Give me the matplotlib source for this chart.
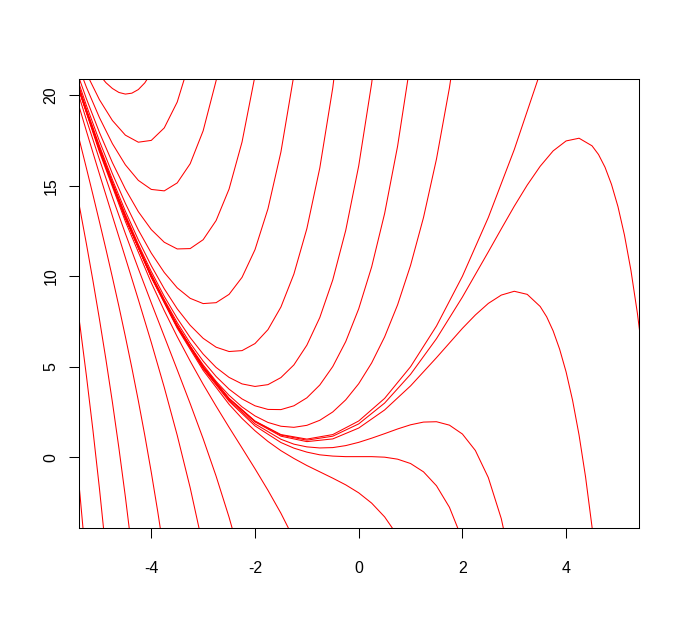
import matplotlib
matplotlib.use("Agg")
import matplotlib.pyplot as plt

plt.rcParams['font.family'] = ['Liberation Sans', 'DejaVu Sans']
plt.rcParams['axes.unicode_minus'] = False

# ---- data: vertices of each red curve ----
A_x = [-5.0, -4.875, -4.75, -4.625, -4.5, -4.375, -4.25, -4.125, -4.0]
A_y = [21.14, 20.70, 20.38, 20.16, 20.07, 20.12, 20.32, 20.69, 21.25]

B_x = [-5.5, -5.25, -5.0, -4.75, -4.5, -4.25, -4.0, -3.75, -3.5, -3.25]
B_y = [22.93, 21.21, 19.76, 18.61, 17.80, 17.41, 17.51, 18.20, 19.63, 21.96]

C_x = [-5.5, -5.25, -5.0, -4.75, -4.5, -4.25, -4.0, -3.75, -3.5, -3.25, -3.0, -2.75, -2.5]
C_y = [22.32, 20.44, 18.77, 17.33, 16.16, 15.30, 14.80, 14.72, 15.16, 16.22, 18.04, 20.81, 24.76]

D_x = [-5.5, -5.25, -5.0, -4.75, -4.5, -4.25, -4.0, -3.75, -3.5, -3.25, -3.0, -2.75, -2.5, -2.25, -2.0]
D_y = [21.83, 19.80, 17.95, 16.28, 14.82, 13.57, 12.58, 11.88, 11.51, 11.53, 12.02, 13.08, 14.82, 17.42, 21.08]

E_x = [-5.5, -5.25, -5.0, -4.75, -4.5, -4.25, -4.0, -3.75, -3.5, -3.25, -3.0, -2.75, -2.5, -2.25, -2.0,
       -1.75, -1.5, -1.25]
E_y = [21.54, 19.43, 17.47, 15.67, 14.03, 12.56, 11.28, 10.21, 9.36, 8.78, 8.49, 8.54, 9.00, 9.94, 11.47,
       13.73, 16.87, 21.12]

F_x = [-5.5, -5.25, -5.0, -4.75, -4.5, -4.25, -4.0, -3.75, -3.5, -3.25, -3.0, -2.75, -2.5, -2.25, -2.0,
       -1.75, -1.5, -1.25, -1.0, -0.75, -0.5, -0.25]
F_y = [21.38, 19.23, 17.21, 15.34, 13.60, 12.01, 10.58, 9.31, 8.20, 7.29, 6.57, 6.08, 5.84, 5.89, 6.28,
       7.05, 8.30, 10.12, 12.63, 15.99, 20.42, 26.17]

G_x = [-5.5, -5.25, -5.0, -4.75, -4.5, -4.25, -4.0, -3.75, -3.5, -3.25, -3.0, -2.75, -2.5, -2.25, -2.0,
       -1.75, -1.5, -1.25, -1.0, -0.75, -0.5, -0.25, 0.0, 0.25, 0.5]
G_y = [21.31, 19.14, 17.10, 15.18, 13.41, 11.76, 10.26, 8.89, 7.68, 6.61, 5.70, 4.96, 4.41, 4.05, 3.91,
       4.01, 4.40, 5.10, 6.19, 7.72, 9.80, 12.54, 16.10, 20.67, 26.50]

H_x = [-5.5, -5.25, -5.0, -4.75, -4.5, -4.25, -4.0, -3.75, -3.5, -3.25, -3.0, -2.75, -2.5, -2.25, -2.0,
       -1.75, -1.5, -1.25, -1.0, -0.75, -0.5, -0.25, 0.0, 0.25, 0.5, 0.75, 1.0]
H_y = [21.28, 19.10, 17.04, 15.12, 13.32, 11.65, 10.11, 8.71, 7.44, 6.30, 5.31, 4.46, 3.76, 3.22, 2.84,
       2.64, 2.63, 2.84, 3.28, 3.99, 5.01, 6.39, 8.20, 10.52, 13.47, 17.19, 21.85]

I_x = [-5.5, -5.25, -5.0, -4.75, -4.5, -4.25, -4.0, -3.75, -3.5, -3.25, -3.0, -2.75, -2.5, -2.25, -2.0,
       -1.75, -1.5, -1.25, -1.0, -0.75, -0.5, -0.25, 0.0, 0.25, 0.5, 0.75, 1.0, 1.25, 1.5, 1.75, 2.0]
I_y = [21.26, 19.07, 17.01, 15.08, 13.27, 11.59, 10.04, 8.61, 7.31, 6.14, 5.10, 4.19, 3.42, 2.78, 2.28,
       1.92, 1.71, 1.65, 1.76, 2.04, 2.50, 3.17, 4.06, 5.21, 6.65, 8.42, 10.60, 13.25, 16.48, 20.42, 25.22]

J_x = [-5.5, -5.0, -4.5, -4.0, -3.5, -3.0, -2.5, -2.0, -1.5, -1.0, -0.5, 0.0, 0.5, 1.0, 1.5, 2.0, 2.5,
       3.0, 3.5]
J_y = [21.25, 17.0, 13.25, 10.0, 7.25, 5.0, 3.25, 2.0, 1.25, 1.0, 1.25, 2.0, 3.25, 5.0, 7.25, 10.0, 13.25,
       17.0, 21.25]

K_x = [-5.5, -5.0, -4.5, -4.0, -3.5, -3.0, -2.5, -2.0, -1.5, -1.0, -0.5, 0.0, 0.5, 1.0, 1.5, 2.0, 2.5,
       2.75, 3.0, 3.25, 3.5, 3.75, 4.0, 4.25, 4.5, 4.625, 4.75, 4.875, 5.0, 5.125, 5.25, 5.375, 5.5]
K_y = [21.25, 17.00, 13.25, 10.00, 7.25, 4.99, 3.24, 1.98, 1.22, 0.94, 1.16, 1.84, 2.99, 4.58, 6.55, 8.85,
       11.35, 12.62, 13.87, 15.04, 16.08, 16.93, 17.48, 17.63, 17.21, 16.73, 16.03, 15.08, 13.85, 12.28,
       10.33, 7.95, 5.08]

L_x = [-5.5, -5.0, -4.5, -4.0, -3.5, -3.0, -2.5, -2.0, -1.5, -1.0, -0.5, 0.0, 0.5, 1.0, 1.5, 2.0, 2.25,
       2.5, 2.75, 3.0, 3.25, 3.5, 3.625, 3.75, 3.875, 4.0, 4.125, 4.25, 4.375, 4.5, 4.625]
L_y = [21.25, 17.00, 13.25, 9.99, 7.24, 4.98, 3.22, 1.95, 1.16, 0.86, 1.01, 1.61, 2.61, 3.94, 5.50, 7.12,
       7.86, 8.50, 8.96, 9.17, 9.00, 8.33, 7.76, 6.98, 5.97, 4.71, 3.14, 1.22, -1.09, -3.86, -7.14]

M_x = [-5.5, -5.0, -4.5, -4.0, -3.5, -3.0, -2.5, -2.0, -1.5, -1.25, -1.0, -0.75, -0.5, -0.25, 0.0, 0.25,
       0.5, 0.75, 1.0, 1.25, 1.5, 1.75, 2.0, 2.25, 2.5, 2.75, 3.0]
M_y = [21.25, 16.99, 13.24, 9.98, 7.21, 4.94, 3.15, 1.84, 0.99, 0.72, 0.57, 0.51, 0.53, 0.64, 0.82, 1.05,
       1.30, 1.56, 1.79, 1.94, 1.96, 1.77, 1.28, 0.37, -1.13, -3.40, -6.70]

N_x = [-5.5, -5.0, -4.5, -4.0, -3.5, -3.0, -2.5, -2.0, -1.5, -1.25, -1.0, -0.75, -0.5, -0.25, 0.0, 0.25,
       0.5, 0.75, 1.0, 1.25, 1.5, 1.75, 2.0]
N_y = [21.24, 16.99, 13.23, 9.96, 7.19, 4.90, 3.09, 1.73, 0.81, 0.50, 0.28, 0.13, 0.06, 0.03, 0.03, 0.03,
       0.00, -0.11, -0.35, -0.81, -1.58, -2.77, -4.56]

O_x = [-5.5, -5.0, -4.5, -4.0, -3.5, -3.0, -2.5, -2.25, -2.0, -1.75, -1.5, -1.25, -1.0, -0.75, -0.5, -0.25,
       0.0, 0.25, 0.5, 0.75]
O_y = [21.23, 16.97, 13.21, 9.93, 7.13, 4.80, 2.92, 2.14, 1.46, 0.87, 0.36, -0.07, -0.46, -0.81, -1.16, -1.53,
       -1.97, -2.54, -3.30, -4.34]

P_x = [-5.5, -5.0, -4.5, -4.0, -3.75, -3.5, -3.25, -3.0, -2.75, -2.5, -2.25, -2.0, -1.75, -1.5, -1.25]
P_y = [21.17, 16.87, 13.03, 9.64, 8.10, 6.66, 5.31, 4.03, 2.82, 1.65, 0.51, -0.64, -1.83, -3.10, -4.52]

Q_x = [-5.5, -5.25, -5.0, -4.75, -4.5, -4.25, -4.0, -3.75, -3.5, -3.25, -3.0, -2.75, -2.5, -2.25]
Q_y = [20.92, 18.64, 16.46, 14.37, 12.36, 10.42, 8.53, 6.68, 4.83, 2.96, 1.02, -1.05, -3.32, -5.87]

R_x = [-5.5, -5.25, -5.0, -4.75, -4.5, -4.25, -4.0, -3.75, -3.5, -3.25, -3.0]
R_y = [20.43, 18.01, 15.65, 13.33, 11.03, 8.71, 6.34, 3.86, 1.21, -1.69, -4.96]

S_x = [-5.5, -5.375, -5.25, -5.125, -5.0, -4.875, -4.75, -4.625, -4.5, -4.375, -4.25, -4.125, -4.0,
       -3.875, -3.75]
S_y = [18.83, 17.40, 15.96, 14.50, 13.01, 11.50, 9.94, 8.34, 6.67, 4.94, 3.12, 1.20, -0.84, -3.02, -5.36]

T_x = [-5.5, -5.375, -5.25, -5.125, -5.0, -4.875, -4.75, -4.625, -4.5, -4.375]
T_y = [15.57, 13.70, 11.77, 9.75, 7.63, 5.40, 3.04, 0.51, -2.19, -5.11]

U_x = [-5.5, -5.375, -5.25, -5.125, -5.0, -4.875]
U_y = [9.89, 7.27, 4.47, 1.48, -1.73, -5.21]

V_x = [-5.5, -5.4375, -5.375, -5.3125, -5.25]
V_y = [1.63, -0.19, -2.09, -4.07, -6.13]

x_ticks = [-4, -2, 0, 2, 4]
x_tick_labels = ["-4", "-2", "0", "2", "4"]
y_ticks = [0, 5, 10, 15, 20]
y_tick_labels = ["0", "5", "10", "15", "20"]

curves = [(A_x, A_y), (B_x, B_y), (C_x, C_y), (D_x, D_y), (E_x, E_y), (F_x, F_y),
          (G_x, G_y), (H_x, H_y), (I_x, I_y), (J_x, J_y), (K_x, K_y), (L_x, L_y),
          (M_x, M_y), (N_x, N_y), (O_x, O_y), (P_x, P_y), (Q_x, Q_y), (R_x, R_y),
          (S_x, S_y), (T_x, T_y), (U_x, U_y), (V_x, V_y)]

# ---- figure ----
W, H = 679, 626
fig = plt.figure(figsize=(W / 100, H / 100), dpi=100)
left, right, top, bottom = 78.7, 638.7, 78.7, 528.1
ax = fig.add_axes([left / W, (H - bottom) / H, (right - left) / W, (bottom - top) / H])

for xs, ys in curves:
    ax.plot(xs, ys, color='#ff0000', lw=0.75, solid_joinstyle='round')

ax.set_xlim(-5.4, 5.4)
ax.set_ylim(-3.92, 20.92)
ax.set_xticks(x_ticks)
ax.set_xticklabels(x_tick_labels)
ax.set_yticks(y_ticks)
ax.set_yticklabels(y_tick_labels, rotation=90, va='center')
ax.tick_params(direction='out', length=7, width=0.75, labelsize=11.5, colors='black')
ax.tick_params(axis='x', pad=17)
ax.tick_params(axis='y', pad=7.6)
for s in ax.spines.values():
    s.set_linewidth(0.75)
    s.set_color('black')

fig.savefig('out.png', dpi=100, facecolor='white')
